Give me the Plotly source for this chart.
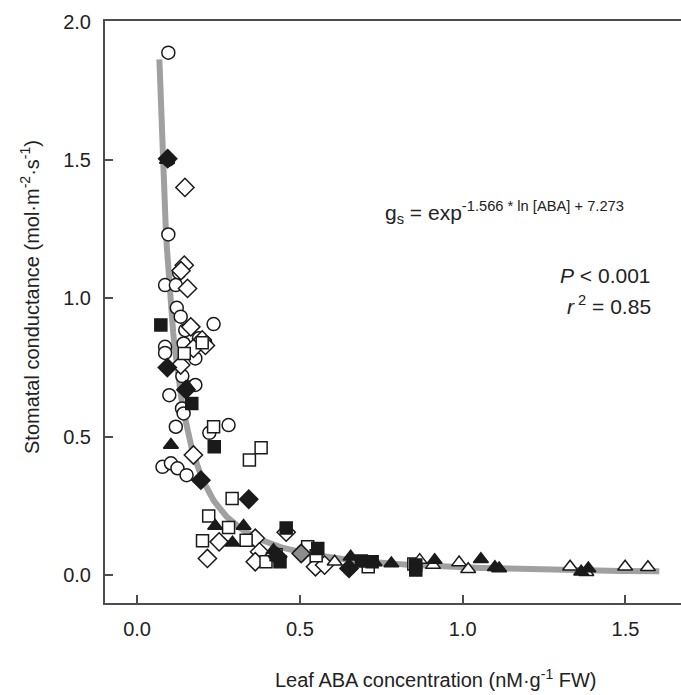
import numpy as np
import plotly.graph_objects as go

# ---- data ----
open_circle_x = [0.096, 0.096, 0.129, 0.086, 0.119, 0.122, 0.134, 0.235, 0.148, 0.190, 0.210, 0.086, 0.086,
                 0.143, 0.179, 0.139, 0.179, 0.099, 0.138, 0.143, 0.119, 0.281, 0.222, 0.078, 0.104, 0.124, 0.152]
open_circle_y = [1.888, 1.231, 1.093, 1.048, 1.048, 0.966, 0.934, 0.907, 0.885, 0.856, 0.838, 0.825, 0.803,
                 0.837, 0.783, 0.719, 0.687, 0.650, 0.602, 0.584, 0.536, 0.542, 0.514, 0.391, 0.404, 0.386, 0.361]

filled_circle_x = [0.097, 0.160]
filled_circle_y = [1.500, 0.680]

open_diamond_x = [0.147, 0.145, 0.135, 0.155, 0.165, 0.200, 0.173, 0.134, 0.173, 0.252, 0.363, 0.376, 0.216,
                  0.363, 0.458, 0.548, 0.576, 0.210, 0.510]
open_diamond_y = [1.401, 1.120, 1.100, 1.036, 0.897, 0.850, 0.819, 0.759, 0.434, 0.120, 0.133, 0.084, 0.060,
                  0.048, 0.155, 0.030, 0.036, 0.830, 0.085]

filled_diamond_x = [0.094, 0.093, 0.150, 0.196, 0.343, 0.432, 0.651]
filled_diamond_y = [1.505, 0.750, 0.670, 0.343, 0.274, 0.066, 0.024]

grey_diamond_x = [0.504]
grey_diamond_y = [0.078]

open_square_x = [0.145, 0.235, 0.381, 0.345, 0.292, 0.220, 0.281, 0.201, 0.335, 0.396, 0.427, 0.524, 0.550,
                 0.710, 0.850, 0.200]
open_square_y = [0.801, 0.536, 0.460, 0.416, 0.277, 0.213, 0.172, 0.124, 0.126, 0.048, 0.073, 0.102, 0.070,
                 0.030, 0.040, 0.840]

filled_square_x = [0.073, 0.168, 0.237, 0.458, 0.555, 0.689, 0.722, 0.856, 0.856, 0.439]
filled_square_y = [0.904, 0.620, 0.464, 0.170, 0.096, 0.051, 0.048, 0.036, 0.018, 0.048]

open_triangle_x = [0.607, 0.868, 0.909, 0.989, 1.017, 1.330, 1.380, 1.499, 1.569]
open_triangle_y = [0.048, 0.054, 0.036, 0.045, 0.021, 0.030, 0.010, 0.030, 0.028]

filled_triangle_x = [0.092, 0.104, 0.155, 0.240, 0.327, 0.293, 0.419, 0.656, 0.730, 0.781, 0.914, 1.056,
                     1.099, 1.112, 1.364, 1.386]
filled_triangle_y = [1.500, 0.470, 0.681, 0.177, 0.177, 0.117, 0.090, 0.066, 0.045, 0.042, 0.054, 0.057,
                     0.028, 0.024, 0.012, 0.024]

# fitted power curve gs = a * ABA^b  (b = -1.566 from the equation)
fit_a = 0.028
fit_b = -1.566
fit_xmin, fit_xmax = 0.0685, 1.604

x_ticks = [0.0, 0.5, 1.0, 1.5]
y_ticks = [0.0, 0.5, 1.0, 1.5, 2.0]

FONT = "Liberation Sans, Arial, sans-serif"
BLACK = "#1a1a1a"
AX = "#4d4d4d"

fig = go.Figure()

fx = np.linspace(fit_xmin, fit_xmax, 400)
fy = fit_a * fx ** fit_b
fig.add_trace(go.Scatter(x=fx, y=fy, mode="lines",
                         line=dict(color="#a0a0a0", width=6), hoverinfo="skip"))

def add_pts(xs, ys, symbol, fill, size):
    fig.add_trace(go.Scatter(x=xs, y=ys, mode="markers",
                             marker=dict(symbol=symbol, size=size, color=fill,
                                         line=dict(color=BLACK, width=1.5))))

add_pts(filled_circle_x, filled_circle_y, "circle", BLACK, 12)
add_pts(open_circle_x, open_circle_y, "circle", "white", 13)
add_pts(open_diamond_x, open_diamond_y, "diamond", "white", 14)
add_pts(open_square_x, open_square_y, "square", "white", 12)
add_pts(open_triangle_x, open_triangle_y, "triangle-up", "white", 13)
add_pts(grey_diamond_x, grey_diamond_y, "diamond", "#8c8c8c", 14)
add_pts(filled_diamond_x, filled_diamond_y, "diamond", BLACK, 14)
add_pts(filled_square_x, filled_square_y, "square", BLACK, 12)
add_pts(filled_triangle_x, filled_triangle_y, "triangle-up", BLACK, 13)

fig.update_layout(
    width=681, height=695,
    margin=dict(l=105, r=0, t=21, b=92),
    paper_bgcolor="white", plot_bgcolor="white",
    showlegend=False,
    font=dict(family=FONT, size=20, color="#222222"),
    xaxis=dict(range=[-0.0985, 1.6706], tickvals=x_ticks, ticktext=[f"{v:.1f}" for v in x_ticks],
               showgrid=False, zeroline=False, showline=True, linecolor=AX, linewidth=2,
               mirror=True, ticks="inside", ticklen=8, tickwidth=1.5, tickcolor=AX,
               ticklabelstandoff=7, tickfont=dict(size=20)),
    yaxis=dict(range=[-0.101, 2.0025], tickvals=y_ticks, ticktext=[f"{v:.1f}" for v in y_ticks],
               showgrid=False, zeroline=False, showline=True, linecolor=AX, linewidth=2,
               ticks="inside", ticklen=8, tickwidth=1.5, tickcolor=AX,
               ticklabelstandoff=8, tickfont=dict(size=20)),
)

fig.add_annotation(xref="paper", yref="paper", x=0.573, y=-0.129, xanchor="center", yanchor="middle",
                   text="Leaf ABA concentration (nM·g<sup>-1</sup> FW)", showarrow=False,
                   font=dict(size=20))
fig.add_annotation(xref="paper", yref="paper", x=-0.13, y=0.526, xanchor="center", yanchor="middle",
                   text="Stomatal conductance (mol·m<sup>-2</sup>·s<sup>-1</sup>)", showarrow=False,
                   textangle=-90, font=dict(size=20))
fig.add_annotation(xref="x", yref="y", x=0.755, y=1.31, xanchor="left", yanchor="middle",
                   text="g<sub>s</sub> = exp<sup>-1.566 * ln [ABA] + 7.273</sup>", showarrow=False,
                   font=dict(size=21))
fig.add_annotation(xref="x", yref="y", x=1.585, y=1.084, xanchor="right", yanchor="middle",
                   text="<i>P</i> < 0.001", showarrow=False, font=dict(size=21))
fig.add_annotation(xref="x", yref="y", x=1.585, y=0.976, xanchor="right", yanchor="middle",
                   text="<i>r</i><sup> 2</sup> = 0.85", showarrow=False, font=dict(size=21))

fig.write_html("out.html")
